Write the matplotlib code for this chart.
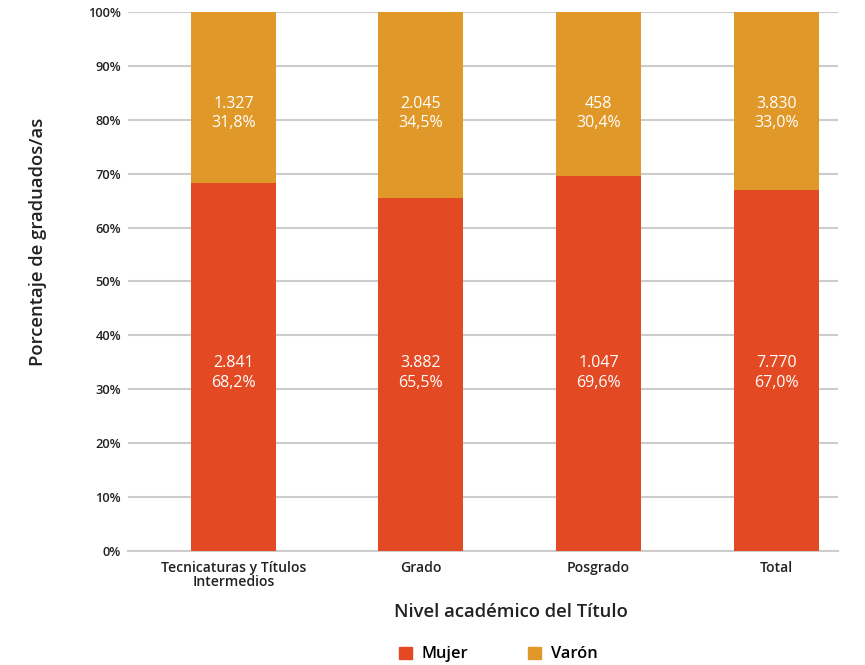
import matplotlib.pyplot as plt
import numpy as np
from matplotlib.patches import Patch

plt.rcParams['font.family'] = ['Open Sans', 'DejaVu Sans']

niveles = ['Tecnicaturas y Títulos\nIntermedios', 'Grado', 'Posgrado', 'Total']
mujer_n = ['2.841', '3.882', '1.047', '7.770']
varon_n = ['1.327', '2.045', '458', '3.830']
mujer_pct = [68.2, 65.5, 69.6, 67.0]
varon_pct = [31.8, 34.5, 30.4, 33.0]

c_mujer = '#E34A24'
c_varon = '#E09828'

fig = plt.figure(figsize=(8.65, 6.65), dpi=100)
ax = fig.add_axes([0.148, 0.1714, 0.821, 0.8106])

x = np.array([0, 1.05, 2.05, 3.05])  # first gap is a bit wider in the original
w = 0.478
ax.bar(x, mujer_pct, w, color=c_mujer, zorder=3)
ax.bar(x, varon_pct, w, bottom=mujer_pct, color=c_varon, zorder=3)

def fmt(n, p):
	return '%s\n%s' % (n, ('%.1f%%' % p).replace('.', ','))

for i in range(len(x)):
	ax.text(x[i], 33.0, fmt(mujer_n[i], mujer_pct[i]), ha='center', va='center',
		color='white', fontsize=11.5, linespacing=1.3, zorder=4)
	ax.text(x[i], 81.2, fmt(varon_n[i], varon_pct[i]), ha='center', va='center',
		color='white', fontsize=11.5, linespacing=1.3, zorder=4)

ax.set_ylim(0, 100)
ax.set_xlim(-0.593, 3.395)
ax.set_yticks(np.arange(0, 101, 10))
ax.set_yticklabels(['%d%%' % v for v in range(0, 101, 10)], fontsize=9.3, color='#222222', fontweight='semibold')
ax.set_xticks(x)
ax.set_xticklabels(niveles, fontsize=10.1, color='#222222', linespacing=1.05, fontweight='semibold')
ax.tick_params(axis='y', length=0, pad=5)
ax.tick_params(axis='x', length=0, pad=7)
ax.grid(axis='y', color='#cccccc', linewidth=1.5, zorder=0)
for s in ['top', 'right', 'left']:
	ax.spines[s].set_visible(False)
ax.spines['bottom'].set_color('#cccccc')
ax.spines['bottom'].set_linewidth(1.5)

fig.text(38 / 865, 1 - 242 / 665, 'Porcentaje de graduados/as', rotation=90,
	ha='center', va='center', fontsize=13.3, color='#222222', fontweight='semibold')
fig.text(511 / 865, 1 - 612 / 665, 'Nivel académico del Título',
	ha='center', va='center', fontsize=13.3, color='#222222', fontweight='semibold')

handles = [Patch(color=c_mujer, label='Mujer'), Patch(color=c_varon, label='Varón')]
fig.legend(handles=handles, loc='center', bbox_to_anchor=(0.5763, 0.0158), ncol=2, frameon=False,
	handlelength=0.78, handleheight=0.78, columnspacing=3.65, handletextpad=0.6,
	borderpad=0, borderaxespad=0, prop={'size': 11.8, 'weight': 'semibold'})

fig.savefig('out.png', dpi=100)
